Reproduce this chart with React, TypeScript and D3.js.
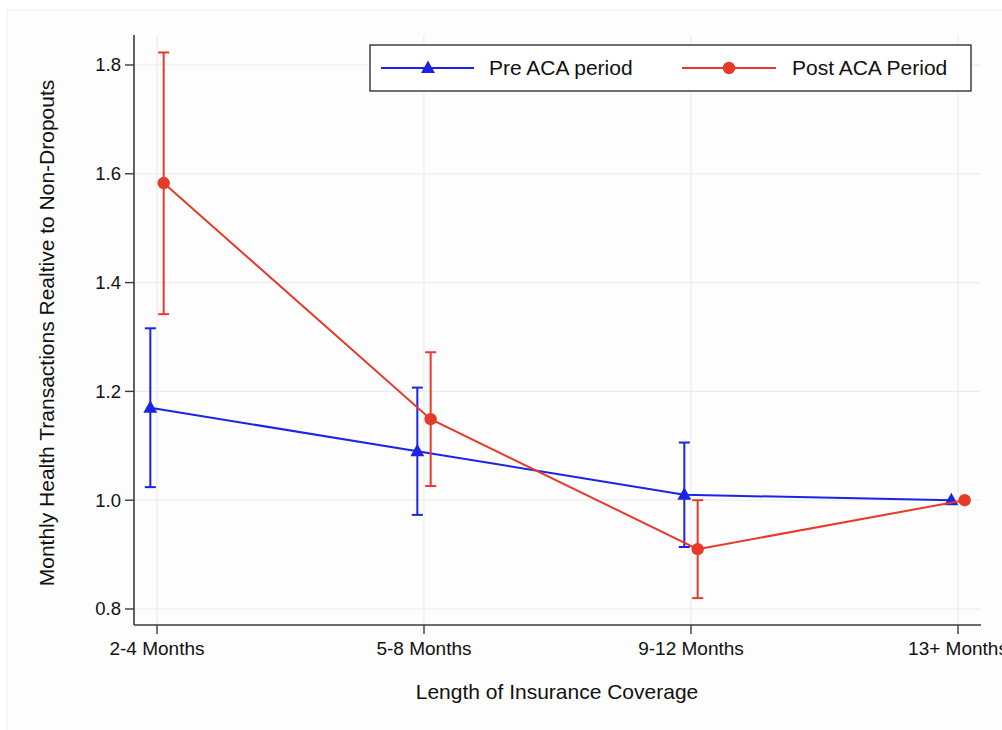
import React from "react";
import * as d3 from "d3";

// Coverage-length categories on the x axis
const categories = ["2-4 Months", "5-8 Months", "9-12 Months", "13+ Months"];

// Pre ACA period: point estimates and 95% CI bounds (last category is the reference, no CI)
const preValues = [1.17, 1.09, 1.01, 1.0];
const preLower = [1.024, 0.973, 0.914, null];
const preUpper = [1.316, 1.207, 1.106, null];

// Post ACA period: point estimates and 95% CI bounds
const postValues = [1.583, 1.149, 0.91, 1.0];
const postLower = [1.342, 1.026, 0.82, null];
const postUpper = [1.823, 1.272, 1.0, null];

const yTicks = [0.8, 1.0, 1.2, 1.4, 1.6, 1.8];

const BLUE = "#1b24e6";
const RED = "#e63a2b";
const FONT = "'Liberation Sans', Arial, Helvetica, sans-serif";

const W = 1002;
const H = 730;
const plot = { left: 134, right: 981, top: 35, bottom: 625 };

export default function App() {
  const x = d3.scaleLinear().domain([0, 3]).range([157, 958]);
  const y = d3.scaleLinear().domain([0.8, 1.8]).range([609, 65]);
  const dodge = 0.025;

  const series = [
    { name: "Pre ACA period", color: BLUE, values: preValues, lo: preLower, hi: preUpper, off: -dodge, marker: "tri" },
    { name: "Post ACA Period", color: RED, values: postValues, lo: postLower, hi: postUpper, off: dodge, marker: "circle" },
  ];

  const line = (vals: number[], off: number) =>
    d3
      .line<number>()
      .x((_, i) => x(i + off))
      .y((v) => y(v))(vals) as string;

  const tri = (cx: number, cy: number, s: number) =>
    `M${cx},${cy - s * 0.62} L${cx + s * 0.58},${cy + s * 0.42} L${cx - s * 0.58},${cy + s * 0.42} Z`;

  const capW = 5.5;

  return (
    <svg
      width={W}
      height={H}
      style={{ position: "absolute", left: 0, top: 0, background: "#ffffff" }}
      fontFamily={FONT}
    >
      <rect x={7} y={10} width={W} height={H} fill="#fdfdfd" stroke="#efefef" strokeWidth={1} />

      {/* grid */}
      {yTicks.map((t) => (
        <line key={"gy" + t} x1={plot.left} x2={plot.right} y1={y(t)} y2={y(t)} stroke="#ececec" strokeWidth={1.2} />
      ))}
      {categories.map((c, i) => (
        <line key={"gx" + c} x1={x(i)} x2={x(i)} y1={plot.top} y2={plot.bottom} stroke="#ececec" strokeWidth={1.2} />
      ))}

      {/* axes */}
      <line x1={plot.left} x2={plot.left} y1={plot.top} y2={plot.bottom} stroke="#3a3a3a" strokeWidth={1.6} />
      <line x1={plot.left} x2={plot.right} y1={plot.bottom} y2={plot.bottom} stroke="#3a3a3a" strokeWidth={1.6} />
      {yTicks.map((t) => (
        <g key={"ty" + t}>
          <line x1={plot.left - 9} x2={plot.left} y1={y(t)} y2={y(t)} stroke="#3a3a3a" strokeWidth={1.4} />
          <text x={plot.left - 13} y={y(t)} dy="0.35em" textAnchor="end" fontSize={18.5} fill="#111">
            {d3.format(".1f")(t)}
          </text>
        </g>
      ))}
      {categories.map((c, i) => (
        <g key={"tx" + c}>
          <line x1={x(i)} x2={x(i)} y1={plot.bottom} y2={plot.bottom + 9} stroke="#3a3a3a" strokeWidth={1.4} />
          <text x={x(i)} y={655} textAnchor="middle" fontSize={19} fill="#111">
            {c}
          </text>
        </g>
      ))}

      {/* axis titles */}
      <text x={557} y={699} textAnchor="middle" fontSize={21} fill="#111">
        Length of Insurance Coverage
      </text>
      <text transform={`translate(54,333) rotate(-90)`} textAnchor="middle" fontSize={21} fill="#111">
        Monthly Health Transactions Realtive to Non-Dropouts
      </text>

      {/* series */}
      {series.map((s) => (
        <g key={s.name}>
          {s.values.map((v, i) => {
            const lo = s.lo[i];
            const hi = s.hi[i];
            if (lo == null || hi == null) return null;
            const cx = x(i + s.off);
            return (
              <g key={i} stroke={s.color} strokeWidth={2}>
                <line x1={cx} x2={cx} y1={y(hi)} y2={y(lo)} />
                <line x1={cx - capW} x2={cx + capW} y1={y(hi)} y2={y(hi)} />
                <line x1={cx - capW} x2={cx + capW} y1={y(lo)} y2={y(lo)} />
              </g>
            );
          })}
          <path d={line(s.values, s.off)} fill="none" stroke={s.color} strokeWidth={2} />
          {s.values.map((v, i) =>
            s.marker === "circle" ? (
              <circle key={i} cx={x(i + s.off)} cy={y(v)} r={6.2} fill={s.color} />
            ) : (
              <path key={i} d={tri(x(i + s.off), y(v), 12)} fill={s.color} />
            )
          )}
        </g>
      ))}

      {/* legend */}
      <rect x={370} y={45} width={601} height={46} fill="#ffffff" stroke="#333" strokeWidth={1.4} />
      <line x1={381} x2={474} y1={68} y2={68} stroke={BLUE} strokeWidth={2} />
      <path d={tri(428, 68, 12)} fill={BLUE} />
      <text x={489} y={75} fontSize={21} fill="#111">Pre ACA period</text>
      <line x1={682} x2={776} y1={68} y2={68} stroke={RED} strokeWidth={2} />
      <circle cx={729} cy={68} r={6.2} fill={RED} />
      <text x={792} y={75} fontSize={21} fill="#111">Post ACA Period</text>
    </svg>
  );
}
